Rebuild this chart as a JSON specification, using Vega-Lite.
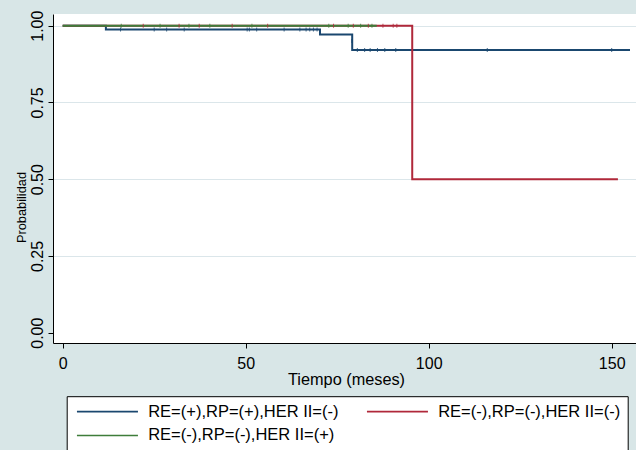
{
  "$schema": "https://vega.github.io/schema/vega-lite/v6.json",
  "width": 583,
  "height": 329,
  "autosize": {"type": "none"},
  "padding": {"left": 53, "top": 14, "right": 0, "bottom": 107},
  "background": "#d8e6e7",
  "config": {"font": "Liberation Sans", "view": {"fill": "white", "stroke": null}},
  "datasets": {
    "curves": [
      {"g": "RE=(+),RP=(+),HER II=(-)", "t": 0, "s": 1},
      {"g": "RE=(+),RP=(+),HER II=(-)", "t": 11.8, "s": 0.988},
      {"g": "RE=(+),RP=(+),HER II=(-)", "t": 70.3, "s": 0.971},
      {"g": "RE=(+),RP=(+),HER II=(-)", "t": 79.1, "s": 0.921},
      {"g": "RE=(+),RP=(+),HER II=(-)", "t": 155, "s": 0.921},
      {"g": "RE=(-),RP=(-),HER II=(-)", "t": 0, "s": 1},
      {"g": "RE=(-),RP=(-),HER II=(-)", "t": 95.5, "s": 0.5},
      {"g": "RE=(-),RP=(-),HER II=(-)", "t": 151.7, "s": 0.5},
      {"g": "RE=(-),RP=(-),HER II=(+)", "t": 0, "s": 1},
      {"g": "RE=(-),RP=(-),HER II=(+)", "t": 85.8, "s": 1}
    ],
    "censored": [
      {"g": "RE=(+),RP=(+),HER II=(-)", "t": 15.8, "s": 0.988},
      {"g": "RE=(+),RP=(+),HER II=(-)", "t": 25, "s": 0.988},
      {"g": "RE=(+),RP=(+),HER II=(-)", "t": 28.4, "s": 0.988},
      {"g": "RE=(+),RP=(+),HER II=(-)", "t": 33.2, "s": 0.988},
      {"g": "RE=(+),RP=(+),HER II=(-)", "t": 50.4, "s": 0.988},
      {"g": "RE=(+),RP=(+),HER II=(-)", "t": 51, "s": 0.988},
      {"g": "RE=(+),RP=(+),HER II=(-)", "t": 53, "s": 0.988},
      {"g": "RE=(+),RP=(+),HER II=(-)", "t": 60.5, "s": 0.988},
      {"g": "RE=(+),RP=(+),HER II=(-)", "t": 64.8, "s": 0.988},
      {"g": "RE=(+),RP=(+),HER II=(-)", "t": 66.5, "s": 0.988},
      {"g": "RE=(+),RP=(+),HER II=(-)", "t": 67.5, "s": 0.988},
      {"g": "RE=(+),RP=(+),HER II=(-)", "t": 68.5, "s": 0.988},
      {"g": "RE=(+),RP=(+),HER II=(-)", "t": 69.5, "s": 0.988},
      {"g": "RE=(+),RP=(+),HER II=(-)", "t": 79, "s": 0.95},
      {"g": "RE=(+),RP=(+),HER II=(-)", "t": 80.5, "s": 0.921},
      {"g": "RE=(+),RP=(+),HER II=(-)", "t": 82.5, "s": 0.921},
      {"g": "RE=(+),RP=(+),HER II=(-)", "t": 84, "s": 0.921},
      {"g": "RE=(+),RP=(+),HER II=(-)", "t": 86, "s": 0.921},
      {"g": "RE=(+),RP=(+),HER II=(-)", "t": 88, "s": 0.921},
      {"g": "RE=(+),RP=(+),HER II=(-)", "t": 91, "s": 0.921},
      {"g": "RE=(+),RP=(+),HER II=(-)", "t": 116, "s": 0.921},
      {"g": "RE=(+),RP=(+),HER II=(-)", "t": 150, "s": 0.921},
      {"g": "RE=(-),RP=(-),HER II=(-)", "t": 22, "s": 1},
      {"g": "RE=(-),RP=(-),HER II=(-)", "t": 31.8, "s": 1},
      {"g": "RE=(-),RP=(-),HER II=(-)", "t": 37.3, "s": 1},
      {"g": "RE=(-),RP=(-),HER II=(-)", "t": 46.3, "s": 1},
      {"g": "RE=(-),RP=(-),HER II=(-)", "t": 56, "s": 1},
      {"g": "RE=(-),RP=(-),HER II=(-)", "t": 74, "s": 1},
      {"g": "RE=(-),RP=(-),HER II=(-)", "t": 79.4, "s": 1},
      {"g": "RE=(-),RP=(-),HER II=(-)", "t": 83.5, "s": 1},
      {"g": "RE=(-),RP=(-),HER II=(-)", "t": 87.5, "s": 1},
      {"g": "RE=(-),RP=(-),HER II=(-)", "t": 90.3, "s": 1},
      {"g": "RE=(-),RP=(-),HER II=(-)", "t": 91.3, "s": 1},
      {"g": "RE=(-),RP=(-),HER II=(+)", "t": 16, "s": 1},
      {"g": "RE=(-),RP=(-),HER II=(+)", "t": 26.6, "s": 1},
      {"g": "RE=(-),RP=(-),HER II=(+)", "t": 34.5, "s": 1},
      {"g": "RE=(-),RP=(-),HER II=(+)", "t": 40.2, "s": 1},
      {"g": "RE=(-),RP=(-),HER II=(+)", "t": 51.7, "s": 1},
      {"g": "RE=(-),RP=(-),HER II=(+)", "t": 72.7, "s": 1},
      {"g": "RE=(-),RP=(-),HER II=(+)", "t": 78, "s": 1},
      {"g": "RE=(-),RP=(-),HER II=(+)", "t": 81.4, "s": 1},
      {"g": "RE=(-),RP=(-),HER II=(+)", "t": 84.5, "s": 1}
    ]
  },
  "encoding": {
    "x": {
      "field": "t", "type": "quantitative",
      "scale": {"domain": [-2.65, 156.64], "nice": false, "zero": false},
      "axis": {
        "values": [0, 50, 100, 150], "format": "d",
        "title": "Tiempo (meses)", "titleFontSize": 16.3, "titleFontWeight": "normal", "titleColor": "black",
        "titleBaseline": "alphabetic", "titleY": 41.7, "titleX": 293,
        "labelFontSize": 16, "labelColor": "black", "labelBaseline": "alphabetic", "labelPadding": 20,
        "labelFlush": false, "labelOverlap": false,
        "tickSize": 5, "tickColor": "black", "domainColor": "black", "grid": false
      }
    },
    "y": {
      "field": "s", "type": "quantitative",
      "scale": {"domain": [-0.0336, 1.0381], "nice": false, "zero": false},
      "axis": {
        "values": [0, 0.25, 0.5, 0.75, 1], "format": ".2f",
        "title": "Probabilidad", "titleFontSize": 12.8, "titleFontWeight": "normal", "titleColor": "black",
        "titleAngle": 270, "titleAlign": "center", "titleBaseline": "alphabetic", "titleX": -27.5, "titleY": 193,
        "labelAngle": 270, "labelAlign": "center", "labelBaseline": "alphabetic", "labelPadding": 5.5,
        "labelFontSize": 16, "labelColor": "black", "labelFlush": false, "labelOverlap": false,
        "tickSize": 5, "tickColor": "black", "domainColor": "black",
        "grid": true, "gridColor": {"condition": {"test": "datum.value === 0", "value": "transparent"}, "value": "#dbe6ea"}, "gridWidth": 1
      }
    },
    "color": {
      "field": "g", "type": "nominal",
      "scale": {
        "domain": ["RE=(+),RP=(+),HER II=(-)", "RE=(-),RP=(-),HER II=(-)", "RE=(-),RP=(-),HER II=(+)"],
        "range": ["#1a476f", "#b0283a", "#3e7d3a"]
      },
      "legend": {
        "orient": "none", "legendX": 13.7, "legendY": 382.2, "direction": "horizontal", "columns": 2,
        "title": null, "fillColor": "white", "strokeColor": "black", "padding": 7,
        "symbolType": "M-1,0H11.2", "symbolSize": 100, "symbolStrokeWidth": 1.6, "symbolOpacity": 1,
        "labelFontSize": 16.5, "labelColor": "black", "labelOffset": 58, "labelLimit": 0,
        "columnPadding": 25, "rowPadding": 7
      }
    }
  },
  "layer": [
    {"data": {"name": "curves"}, "transform": [{"filter": "datum.g === 'RE=(+),RP=(+),HER II=(-)'"}], "mark": {"type": "line", "interpolate": "step-after", "strokeWidth": 2}},
    {"data": {"name": "curves"}, "transform": [{"filter": "datum.g === 'RE=(-),RP=(-),HER II=(-)'"}], "mark": {"type": "line", "interpolate": "step-after", "strokeWidth": 2}},
    {"data": {"name": "curves"}, "transform": [{"filter": "datum.g === 'RE=(-),RP=(-),HER II=(+)'"}], "mark": {"type": "line", "interpolate": "step-after", "strokeWidth": 2}},
    {"data": {"name": "censored"}, "mark": {"type": "tick", "orient": "vertical", "size": 4, "thickness": 1, "opacity": 0.8}}
  ]
}
